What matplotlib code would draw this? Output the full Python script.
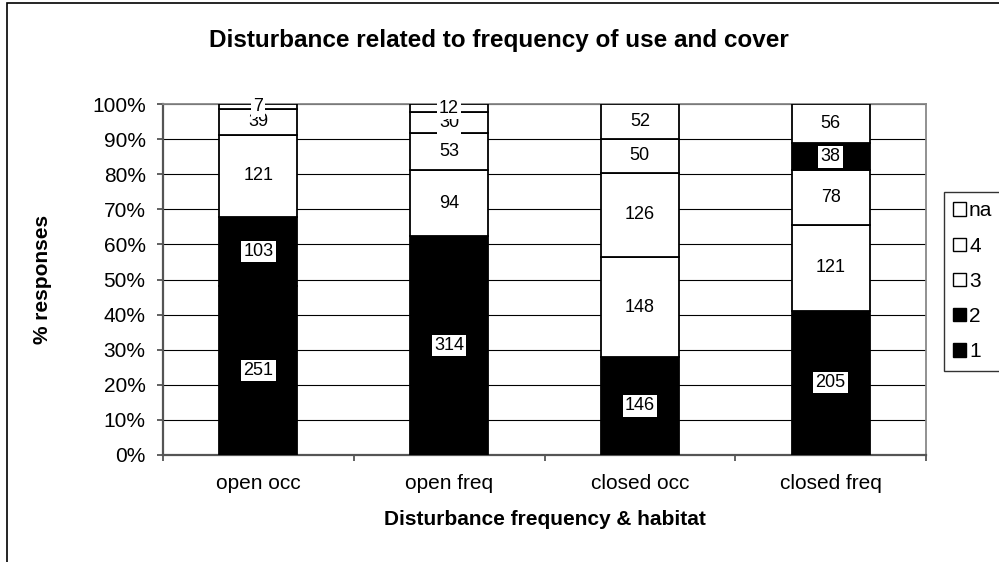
import numpy as np
import matplotlib
matplotlib.use("Agg")
import matplotlib.pyplot as plt
from matplotlib.patches import Patch, Rectangle
from matplotlib.ticker import PercentFormatter

plt.rcParams['font.family'] = ['Liberation Sans', 'DejaVu Sans']

# data (counts per response class)
categories = ['open occ', 'open freq', 'closed occ', 'closed freq']
series_names = ['1', '2', '3', '4', 'na']
s1 = [251, 314, 146, 205]
s2 = [103, 94, 148, 121]
s3 = [121, 53, 126, 78]
s4 = [39, 30, 50, 38]
sna = [7, 12, 52, 56]

# fill of each segment (the original has some points recoloured)
seg_fill = [
    ['black', 'black', 'white', 'white', 'white'],
    ['black', 'white', 'white', 'white', 'white'],
    ['black', 'white', 'white', 'white', 'white'],
    ['black', 'white', 'white', 'black', 'white'],
]
legend_fill = ['black', 'black', 'white', 'white', 'white']

counts = np.array([s1, s2, s3, s4, sna], dtype=float)
pct = counts / counts.sum(axis=0) * 100

fig = plt.figure(figsize=(9.99, 5.62), dpi=100)
ax = fig.add_axes([163 / 999, 1 - 455 / 562, (926 - 163) / 999, (455 - 104) / 562])

# outer chart border (only left and top visible)
fig.patches.append(Rectangle((7 / 999, -0.1), 1.2, 1 - 3 / 562 + 0.1, transform=fig.transFigure,
                             fill=False, edgecolor='black', linewidth=1.2))

x = np.arange(len(categories))
bottom = np.zeros(len(categories))
for i in range(len(series_names)):
    for j in range(len(categories)):
        ax.bar(x[j], pct[i, j], bottom=bottom[j], width=0.41, color=seg_fill[j][i],
               edgecolor='black', linewidth=1.3, zorder=3)
        ax.text(x[j], bottom[j] + pct[i, j] / 2, str(int(counts[i, j])), ha='center', va='center',
                fontsize=13, zorder=4,
                bbox=dict(boxstyle='square,pad=0.12', facecolor='white', edgecolor='none'))
    bottom += pct[i]

ax.set_xlim(-0.5, len(categories) - 0.5)
ax.set_ylim(0, 100)
ax.set_yticks(np.arange(0, 101, 10))
ax.yaxis.set_major_formatter(PercentFormatter(decimals=0))
ax.set_xticks(x)
ax.set_xticklabels(categories)
ax.set_xticks(np.arange(-0.5, len(categories), 1), minor=True)
ax.tick_params(axis='x', which='major', length=0, pad=14, labelsize=15)
ax.tick_params(axis='x', which='minor', length=4.5, color='#555555', width=1.3)
ax.tick_params(axis='y', length=4.5, color='#555555', width=1.3, labelsize=15, pad=8)
ax.grid(axis='y', color='black', linewidth=0.8, zorder=0)
for side in ['top', 'right']:
    ax.spines[side].set_color('#888888')
    ax.spines[side].set_linewidth(1.3)
for side in ['left', 'bottom']:
    ax.spines[side].set_color('#555555')
    ax.spines[side].set_linewidth(1.6)

ax.set_ylabel('% responses', fontsize=15, fontweight='bold')
ax.yaxis.set_label_coords(-0.1455, 0.5)
ax.set_xlabel('Disturbance frequency & habitat', fontsize=15, fontweight='bold', labelpad=12)
fig.text(0.499, 1 - 40 / 562, 'Disturbance related to frequency of use and cover', ha='center',
         va='center', fontsize=17.5, fontweight='bold')

handles = [Patch(facecolor=legend_fill[i], edgecolor='black', linewidth=1) for i in range(len(series_names))]
leg = fig.legend(handles[::-1], series_names[::-1], loc='upper left', bbox_to_anchor=(944 / 999, 1 - 192 / 562),
                 fontsize=15, frameon=True, fancybox=False, handlelength=0.6, handleheight=0.6,
                 handletextpad=0.15, labelspacing=0.78, borderpad=0.45, borderaxespad=0)
leg.get_frame().set_edgecolor('black')
leg.get_frame().set_linewidth(1)

fig.savefig('out.png', dpi=100)
